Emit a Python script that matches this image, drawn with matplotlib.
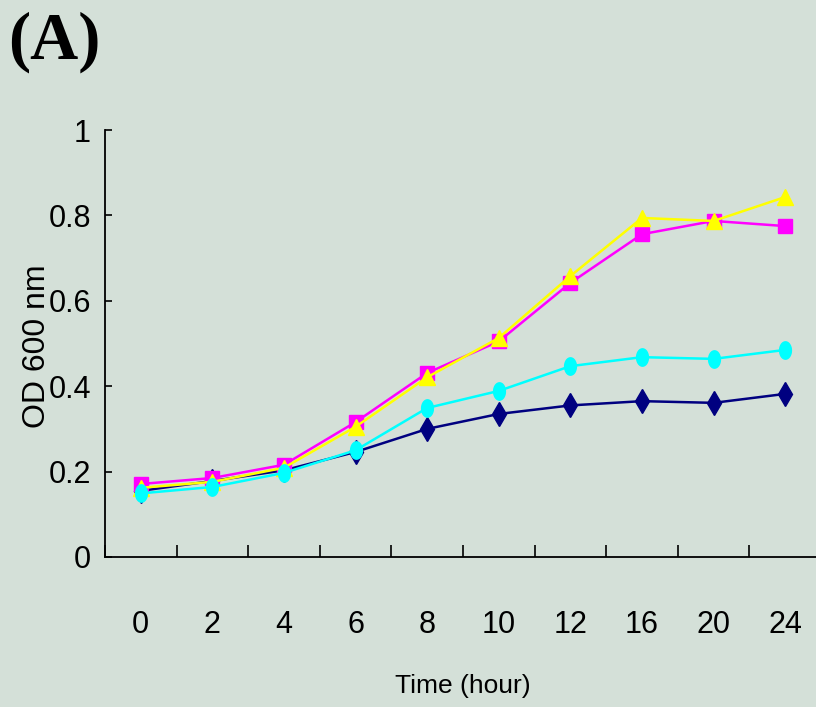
import numpy as np
import matplotlib
matplotlib.use('Agg')
import matplotlib.pyplot as plt
from matplotlib.path import Path

hours = ['0', '2', '4', '6', '8', '10', '12', '16', '20', '24']
od_navy = [0.155, 0.178, 0.203, 0.246, 0.300, 0.335, 0.355, 0.365, 0.361, 0.382]
od_magenta = [0.171, 0.185, 0.216, 0.316, 0.431, 0.505, 0.642, 0.756, 0.787, 0.775]
od_yellow = [0.162, 0.176, 0.209, 0.305, 0.421, 0.513, 0.658, 0.794, 0.787, 0.843]
od_cyan = [0.149, 0.164, 0.197, 0.250, 0.349, 0.389, 0.447, 0.468, 0.464, 0.485]

bg = '#d4e0d8'
narrow = ['Liberation Sans Narrow', 'Liberation Sans', 'DejaVu Sans']

# tall ellipse marker for the cyan series
t = np.linspace(0, 2 * np.pi, 40)
ellipse = Path(np.column_stack([0.68 * np.cos(t), np.sin(t)]), closed=True)

fig = plt.figure(figsize=(8.16, 7.07), dpi=100, facecolor=bg)
ax = fig.add_axes([105 / 816, 150 / 707, 716 / 816, 427 / 707])
ax.set_facecolor(bg)

x = np.arange(len(hours))
ax.plot(x, od_navy, color='#000080', marker='d', ms=12, lw=1.8, mec='#000080')
ax.plot(x, od_magenta, color='#ff00ff', marker='s', ms=10, lw=1.8)
ax.plot(x, od_yellow, color='#ffff00', marker='^', ms=11, lw=1.8)
ax.plot(x, od_cyan, color='#00ffff', marker=ellipse, ms=12.5, lw=1.8)

ax.set_xlim(-0.5, len(hours) - 0.5)
ax.set_ylim(0, 1)
ax.set_xticks(x)
ax.set_xticklabels(hours, family=narrow, fontsize=22)
ax.set_xticks(np.arange(-0.5, len(hours)), minor=True)
ax.tick_params(axis='x', which='major', length=0, pad=38)
ax.tick_params(axis='x', which='minor', direction='in', length=9, width=1.2)
ax.set_yticks([0, 0.2, 0.4, 0.6, 0.8, 1.0])
ax.set_yticklabels(['0', '0.2', '0.4', '0.6', '0.8', '1'], family=narrow, fontsize=22)
ax.tick_params(axis='y', direction='in', length=5, width=1.2, pad=10)

for s in ['top', 'right']:
    ax.spines[s].set_visible(False)
for s in ['left', 'bottom']:
    ax.spines[s].set_linewidth(1.3)

fig.text(463 / 816, 1 - 686 / 707, 'Time (hour)', ha='center', va='center',
         family=narrow, fontsize=19)
fig.text(37 / 816, 1 - 346 / 707, 'OD 600 nm', ha='center', va='center',
         rotation=90, fontsize=23, family=['Liberation Sans', 'DejaVu Sans'])
fig.text(8 / 816, 1 - 42 / 707, '(A)', ha='left', va='center', fontsize=48,
         fontweight='bold', family=['Liberation Serif', 'DejaVu Serif'])

fig.savefig('out.png', dpi=100, facecolor=bg)
